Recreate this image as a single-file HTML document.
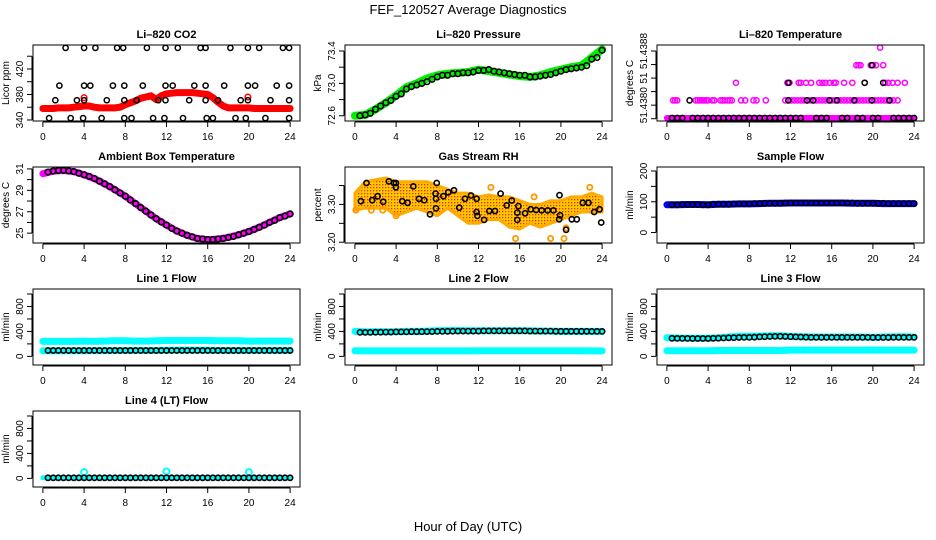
<!DOCTYPE html>
<html><head><meta charset="utf-8"><title>FEF_120527 Average Diagnostics</title>
<style>
html,body{margin:0;padding:0;background:#fff;}
svg{display:block;font-family:"Liberation Sans",Arial,sans-serif;}
</style></head>
<body>
<svg id="chart" width="936" height="540" viewBox="0 0 936 540" xmlns="http://www.w3.org/2000/svg">
<defs>
<pattern id="rhpat" width="3" height="3" patternUnits="userSpaceOnUse">
<rect width="3" height="3" fill="#ffcc00"/><rect x="1" y="1" width="1.3" height="1.3" fill="#ff2000"/>
</pattern>
</defs>
<rect width="936" height="540" fill="#fff"/>
<text x="468" y="14" text-anchor="middle" font-size="13">FEF_120527  Average Diagnostics</text>
<text x="468" y="531" text-anchor="middle" font-size="13">Hour of Day (UTC)</text>
</svg>
<script>
// ---------- data ----------
const hours25 = [0,1,2,3,4,5,6,7,8,9,10,11,12,13,14,15,16,17,18,19,20,21,22,23,24];
const half48 = [0.5,1,1.5,2,2.5,3,3.5,4,4.5,5,5.5,6,6.5,7,7.5,8,8.5,9,9.5,10,10.5,11,11.5,12,12.5,13,13.5,14,14.5,15,15.5,16,16.5,17,17.5,18,18.5,19,19.5,20,20.5,21,21.5,22,22.5,23,23.5,24];
const halfHours49 = [0,0.5,1,1.5,2,2.5,3,3.5,4,4.5,5,5.5,6,6.5,7,7.5,8,8.5,9,9.5,10,10.5,11,11.5,12,12.5,13,13.5,14,14.5,15,15.5,16,16.5,17,17.5,18,18.5,19,19.5,20,20.5,21,21.5,22,22.5,23,23.5,24];
const xTicks = [0,4,8,12,16,20,24];

// CO2
const co2Red = [358,358,358,359,359,359,360,361,362,362,360,359,359,359,359,360,364,367,370,374,376,378,372,378,381,382,383,383,383,383,382,381,380,375,368,362,359,359,359,359,359,358,358,358,358,358,358,358,358];
const co2BlackHours = [2.2,4.0,5.1,7.2,7.8,10.1,11.9,13.1,15.3,15.8,18.2,19.9,21.0,23.3,23.9, 1.6,4.0,4.6,6.8,7.9,9.7,11.9,12.6,14.7,15.8,17.6,19.9,20.6,22.7,23.9, 1.2,3.3,4.0,6.2,7.9,9.1,11.2,11.9,14.2,15.8,17.0,19.2,19.9,22.1,23.9, 0.6,2.7,3.9,5.7,7.9,8.6,10.7,11.8,13.6,15.9,16.5,18.7,19.7,21.6,23.9];
const co2BlackVals = [453,453,453,453,453,453,453,453,453,453,453,453,453,453,453, 394,394,394,394,394,394,394,394,394,394,394,394,394,394,394, 371,371,371,371,371,371,371,371,371,371,371,371,371,371,371, 343,343,343,343,343,343,343,343,343,343,343,343,343,343,343];
const co2RedOutHours = [4.0,19.9];
const co2RedOutVals = [375,376];

// Pressure
const presGreen = [72.6,72.61,72.68,72.76,72.85,72.95,73.0,73.06,73.1,73.12,73.13,73.14,73.17,73.15,73.13,73.11,73.09,73.08,73.1,73.14,73.17,73.2,73.22,73.32,73.42];
const presBlack = [72.6,72.61,72.63,72.68,72.72,72.76,72.79,72.84,72.87,72.93,72.96,72.98,73.0,73.02,73.05,73.08,73.1,73.1,73.12,73.12,73.13,73.13,73.14,73.16,73.16,73.17,73.15,73.14,73.13,73.12,73.11,73.1,73.1,73.08,73.08,73.09,73.1,73.11,73.13,73.15,73.17,73.18,73.19,73.2,73.22,73.3,73.32,73.41];

// Li-820 temperature
const tempBandHours = [0,24];
const tempBandVals = [51.43781,51.43781];
const tempMagHours = [0.6,0.8,1.0,2.8,3.0,3.2,3.4,3.6,3.8,4.0,4.4,4.6,5.2,5.4,5.6,5.9,6.1,6.3,7.2,7.6,8.4,8.7,9.6,11.5,11.8,12.1,12.4,12.7,13.0,13.3,13.6,13.9,14.2,14.5,14.8,15.1,15.4,15.7,16.0,16.3,16.6,16.9,17.2,17.5,17.8,18.1,18.4,18.7,19.0,19.3,19.6,19.9,20.2,20.5,20.8,21.1,21.4,21.7,22.0,22.4,
 6.7,11.7,11.9,12.8,13.0,13.5,14.0,14.8,15.1,15.4,15.8,16.2,16.4,17.2,18.0,19.2,21.2,21.5,21.9,22.4,23.1,
 18.4,18.6,18.8,19.8,20.0,20.3,21.0,
 20.7];
const tempMagVals = [51.43807,51.43807,51.43807,51.43807,51.43807,51.43807,51.43807,51.43807,51.43807,51.43807,51.43807,51.43807,51.43807,51.43807,51.43807,51.43807,51.43807,51.43807,51.43807,51.43807,51.43807,51.43807,51.43807,51.43807,51.43807,51.43807,51.43807,51.43807,51.43807,51.43807,51.43807,51.43807,51.43807,51.43807,51.43807,51.43807,51.43807,51.43807,51.43807,51.43807,51.43807,51.43807,51.43807,51.43807,51.43807,51.43807,51.43807,51.43807,51.43807,51.43807,51.43807,51.43807,51.43807,51.43807,51.43807,51.43807,51.43807,51.43807,51.43807,51.43807,
 51.43833,51.43833,51.43833,51.43833,51.43833,51.43833,51.43833,51.43833,51.43833,51.43833,51.43833,51.43833,51.43833,51.43833,51.43833,51.43833,51.43833,51.43833,51.43833,51.43833,51.43833,
 51.43859,51.43859,51.43859,51.43859,51.43859,51.43859,51.43859,
 51.43885];
const tempBlackHours = [0.5,1.0,1.5,2.5,3.0,3.5,4.0,4.5,5.0,5.5,6.0,6.5,7.0,7.5,8.0,8.5,9.0,9.5,10.0,10.5,11.0,11.5,12.0,12.5,13.0,14.5,15.0,15.5,17.0,17.5,18.5,19.0,20.0,20.5,22.0,22.5,23.0,23.5,24.0,
 2.2,11.8,13.6,14.2,15.8,16.5,18.2,19.9,21.6,
 11.8,19.2,21.0,
 19.9];
const tempBlackVals = [51.43781,51.43781,51.43781,51.43781,51.43781,51.43781,51.43781,51.43781,51.43781,51.43781,51.43781,51.43781,51.43781,51.43781,51.43781,51.43781,51.43781,51.43781,51.43781,51.43781,51.43781,51.43781,51.43781,51.43781,51.43781,51.43781,51.43781,51.43781,51.43781,51.43781,51.43781,51.43781,51.43781,51.43781,51.43781,51.43781,51.43781,51.43781,51.43781,
 51.43807,51.43807,51.43807,51.43807,51.43807,51.43807,51.43807,51.43807,51.43807,
 51.43833,51.43833,51.43833,
 51.43859];
const tempTicks = [51.4378,51.4380,51.4382,51.4384,51.4386,51.4388];
const tempTickLabels = ["","51.4380","","51","","51.4388"];

// Ambient box temperature
const ambBand = [30.55,30.8,30.85,30.75,30.45,30.1,29.6,29.05,28.45,27.75,27.05,26.35,25.75,25.2,24.8,24.5,24.4,24.45,24.6,24.85,25.15,25.55,26.0,26.45,26.8];
const ambBlack = [30.7,30.8,30.85,30.87,30.82,30.75,30.6,30.45,30.3,30.1,29.85,29.6,29.35,29.05,28.75,28.45,28.1,27.75,27.4,27.05,26.7,26.35,26.05,25.75,25.45,25.2,25.0,24.8,24.65,24.5,24.45,24.4,24.4,24.45,24.5,24.6,24.7,24.85,25.0,25.15,25.35,25.55,25.75,26.0,26.2,26.45,26.6,26.8];

// Gas stream RH
const rhLow = [3.285,3.29,3.29,3.29,3.27,3.28,3.29,3.28,3.27,3.29,3.27,3.25,3.25,3.26,3.26,3.24,3.235,3.25,3.24,3.25,3.26,3.27,3.28,3.28,3.28];
const rhHigh = [3.33,3.36,3.365,3.37,3.36,3.36,3.36,3.36,3.35,3.34,3.33,3.33,3.32,3.325,3.32,3.32,3.31,3.30,3.30,3.31,3.31,3.32,3.32,3.33,3.32];
const rhOutHours = [15.6,19.0,20.3,20.5,4.0,1.6,0.1,2.7,13.2,17.4,22.8];
const rhOutVals = [3.21,3.21,3.21,3.238,3.27,3.285,3.285,3.285,3.345,3.32,3.345];
const rhBlackHours = [0.58,1.13,1.68,2.20,2.75,3.30,3.79,3.98,3.98,4.60,5.12,5.67,6.22,6.74,7.29,7.94,7.84,7.87,7.87,8.59,9.07,9.62,10.14,10.69,11.27,11.82,11.82,11.89,12.54,13.05,13.6,14.15,14.74,15.23,15.77,15.77,15.87,16.52,17.07,17.59,18.14,18.72,19.27,19.83,19.86,19.92,20.5,21.06,21.54,22.13,22.68,23.23,23.75,23.91];
const rhBlackVals = [3.3086,3.3566,3.3113,3.3217,3.307,3.3609,3.3566,3.3452,3.3566,3.3086,3.3043,3.3478,3.3148,3.3113,3.2739,3.3566,3.3287,3.3148,3.2896,3.3217,3.3322,3.3374,3.2913,3.3148,3.3235,3.3148,3.2800,3.2696,3.2591,3.2826,3.2826,3.3287,3.2974,3.3104,3.2783,3.2591,3.2957,3.2765,3.2870,3.2852,3.2843,3.2843,3.2843,3.2608,3.3243,3.2713,3.2330,3.2608,3.2608,3.3043,3.3043,3.2800,3.2870,3.2522];

// Sample flow
const sampleBlue = [90,90,91,91,90,92,92,93,93,94,95,95,96,96,96,96,96,96,95,95,95,94,94,94,94];
const sampleBlack = [90,90,91,91,91,91,90,90,92,92,92,92,93,93,93,93,94,94,95,95,95,95,96,96,96,96,96,96,96,96,96,96,96,96,96,96,95,95,95,95,95,95,94,94,94,94,94,94];

// Line flows
const line1CyanHigh = [240,240,240,240,245,240,245,250,250,245,245,250,255,255,255,255,255,250,250,250,245,245,245,245,245];
const line1CyanLow = [90,90,90,90,90,92,92,92,95,95,95,95,98,100,100,100,98,95,95,95,95,95,95,95,95];
const line1Black = [95,95,95,95,95,95,95,95,95,95,95,95,95,95,95,95,95,95,95,95,95,95,95,95,95,95,95,95,95,95,95,95,95,95,95,95,95,95,95,95,95,95,95,95,95,95,95,95];
const line2CyanHigh = [400,395,395,395,395,400,400,405,410,415,415,410,410,410,410,410,410,410,405,405,400,400,400,400,400];
const line2CyanLow = [90,88,88,88,88,88,88,88,88,88,88,88,90,90,90,90,90,90,90,90,90,90,90,88,88];
const line2Black = [385,385,385,388,388,390,390,392,392,393,395,395,396,398,398,400,400,402,403,405,405,406,406,406,408,408,408,408,408,408,408,408,408,405,405,405,405,405,402,402,402,402,402,402,402,400,400,400];
const line3CyanHigh = [300,295,290,290,290,300,310,320,320,325,330,330,320,315,310,310,310,310,310,310,305,310,315,315,310];
const line3CyanLow = [90,90,90,90,90,95,95,95,95,95,95,95,100,100,100,100,100,100,100,100,100,100,100,100,100];
const line3Black = [290,288,288,288,286,286,286,286,290,292,295,298,300,302,305,305,308,312,315,318,320,322,318,315,312,310,308,305,305,305,305,305,305,305,305,305,305,305,305,302,302,302,302,305,305,305,305,305];
const line4CyanHours = [0,24];
const line4CyanVals = [10,10];
const line4SpikeHours = [4,12,20];
const line4SpikeVals = [100,110,100];
const line4Black = [10,10,10,10,10,10,10,10,10,10,10,10,10,10,10,10,10,10,10,10,10,10,10,10,10,10,10,10,10,10,10,10,10,10,10,10,10,10,10,10,10,10,10,10,10,10,10,10];
const flowTicks = [0,200,400,600,800,1000];
const flowTickLabels = ["0","","400","","800",""];

// ---------- drawing ----------
const svg = document.getElementById('chart');
const NS = 'http://www.w3.org/2000/svg';
function mk(tag, attrs, parent){
  const e = document.createElementNS(NS, tag);
  for (const k in attrs) e.setAttribute(k, attrs[k]);
  (parent||svg).appendChild(e);
  return e;
}
const rowTops = [45,167,289,411];

function panel(col,row,key,title,ylab,ymin,ymax,ticks,labels){
  const g = mk('g',{});
  
  
  const x0 = 33 + 312*col, x1 = x0 + 267, y0 = rowTops[row], y1 = y0 + 76;
  const xs = h => x0 + (h + 0.96)/25.92*267;
  const ys = v => y1 - (v - ymin)/(ymax - ymin)*76;
  const t = mk('text',{x:(x0+x1)/2,y:y0-7,'text-anchor':'middle','font-size':'11','font-weight':'bold'},g);
  t.textContent = title;
  
  
  const yl = mk('text',{x:0,y:0,'text-anchor':'middle','font-size':'10',transform:`translate(${x0-24},${(y0+y1)/2}) rotate(-90)`},g);
  yl.textContent = ylab;
  
  
  const xa = mk('g',{stroke:'#000','stroke-width':'1'},g);
  
  
  mk('line',{x1:xs(xTicks[0]),x2:xs(xTicks[xTicks.length-1]),y1:y1+1,y2:y1+1},xa);
  xTicks.forEach(h=>{
    mk('line',{x1:xs(h),x2:xs(h),y1:y1+1,y2:y1+6},xa);
    const tl = mk('text',{x:xs(h),y:y1+19,'text-anchor':'middle','font-size':'10',stroke:'none',fill:'#000'},g);
    tl.textContent = String(h);
    
    
  });
  const ya = mk('g',{stroke:'#000','stroke-width':'1'},g);
  
  
  mk('line',{x1:x0-1,x2:x0-1,y1:ys(ticks[0]),y2:ys(ticks[ticks.length-1])},ya);
  ticks.forEach((v,i)=>{
    mk('line',{x1:x0-6,x2:x0-1,y1:ys(v),y2:ys(v)},ya);
    if (labels[i]) {
      const tl = mk('text',{x:0,y:0,'text-anchor':'middle','font-size':'10',stroke:'none',fill:'#000',transform:`translate(${x0-10},${ys(v)}) rotate(-90)`},g);
      tl.textContent = labels[i];
      
      
    }
  });
  const clip = mk('clipPath',{id:'clip-'+key},g);
  mk('rect',{x:x0,y:y0,width:267,height:76},clip);
  const plot = mk('g',{'clip-path':`url(#clip-${key})`},g);
  
  
  const box = mk('rect',{x:x0,y:y0,width:267,height:76,fill:'none',stroke:'#000','stroke-width':'1'},g);
  
  
  return {xs,ys,plot};
}
function band(P,name,hs,vs,color,w){
  const pts = hs.map((h,i)=>P.xs(h).toFixed(1)+','+P.ys(vs[i]).toFixed(1)).join(' ');
  const l = mk('polyline',{points:pts,fill:'none',stroke:color,'stroke-width':w,'stroke-linejoin':'round','stroke-linecap':'round'},P.plot);
  
  
}
function pts(P,name,hs,vs,color,r,sw){
  const g = mk('g',{fill:'none',stroke:color,'stroke-width':sw},P.plot);
  
  
  hs.forEach((h,i)=>{
    const c = mk('circle',{cx:P.xs(h).toFixed(1),cy:P.ys(vs[i]).toFixed(1),r:r},g);
    
    
  });
}

let P = panel(0,0,'co2','Li\u2013820 CO2','Licor ppm',338.4,457.6,[340,360,380,400,420,440],["340","","380","","420",""]);
band(P,'co2-red-series',halfHours49,co2Red,'#ff0000',7);
pts(P,'co2-red-outliers',co2RedOutHours,co2RedOutVals,'#ff0000',2.8,1.5);
pts(P,'co2-black-series',co2BlackHours,co2BlackVals,'#000',2.6,1.5);

P = panel(1,0,'pressure','Li\u2013820 Pressure','kPa',72.535,73.474,[72.6,72.8,73.0,73.2,73.4],["72.6","","73.0","","73.4"]);
band(P,'pressure-green-series',hours25,presGreen,'#00ee00',8);
pts(P,'pressure-black-series',half48,presBlack,'#000',2.8,1.6);

P = panel(2,0,'temperature','Li\u2013820 Temperature','degrees C',51.437766,51.438889,tempTicks,tempTickLabels);
band(P,'temperature-magenta-band',tempBandHours,tempBandVals,'#ff00ff',6);
pts(P,'temperature-magenta-series',tempMagHours,tempMagVals,'#ff00ff',2.6,1.5);
pts(P,'temperature-black-series',tempBlackHours,tempBlackVals,'#000',2.6,1.5);

P = panel(0,1,'ambient','Ambient Box Temperature','degrees C',24.08,31.18,[25,26,27,28,29,30,31],["25","","27","","29","","31"]);
band(P,'ambient-magenta-series',hours25,ambBand,'#ff00ff',7);
pts(P,'ambient-black-series',half48,ambBlack,'#000',2.8,1.7);

P = panel(1,1,'rh','Gas Stream RH','percent',3.198,3.399,[3.20,3.25,3.30,3.35],["3.20","","3.30",""]);
(function(){
  const top = hours25.map((h,i)=>P.xs(h).toFixed(1)+','+P.ys(rhHigh[i]).toFixed(1));
  const bot = hours25.slice().reverse().map((h,j)=>P.xs(h).toFixed(1)+','+P.ys(rhLow[hours25.length-1-j]).toFixed(1));
  const poly = mk('polygon',{points:top.concat(bot).join(' '),fill:'url(#rhpat)',stroke:'#ffaa00','stroke-width':'3','stroke-linejoin':'round'},P.plot);
  
  
})();
pts(P,'rh-orange-outliers',rhOutHours,rhOutVals,'#ff9900',2.6,1.8);
pts(P,'rh-black-series',rhBlackHours,rhBlackVals,'#000',2.6,1.6);

P = panel(2,1,'sample-flow','Sample Flow','ml/min',-34,213,[0,50,100,150,200],["0","","100","","200"]);
band(P,'sample-flow-blue-series',hours25,sampleBlue,'#0000ff',7);
pts(P,'sample-flow-black-series',half48,sampleBlack,'#000',2.6,1.6);

P = panel(0,2,'line1','Line 1 Flow','ml/min',-138,1080,flowTicks,flowTickLabels);
band(P,'line1-cyan-high',hours25,line1CyanHigh,'#00ffff',7);
band(P,'line1-cyan-low',hours25,line1CyanLow,'#00ffff',7);
pts(P,'line1-black-series',half48,line1Black,'#000',2.6,1.6);

P = panel(1,2,'line2','Line 2 Flow','ml/min',-138,1080,flowTicks,flowTickLabels);
band(P,'line2-cyan-high',hours25,line2CyanHigh,'#00ffff',7);
band(P,'line2-cyan-low',hours25,line2CyanLow,'#00ffff',7);
pts(P,'line2-black-series',half48,line2Black,'#000',2.6,1.6);

P = panel(2,2,'line3','Line 3 Flow','ml/min',-138,1080,flowTicks,flowTickLabels);
band(P,'line3-cyan-high',hours25,line3CyanHigh,'#00ffff',7);
band(P,'line3-cyan-low',hours25,line3CyanLow,'#00ffff',7);
pts(P,'line3-black-series',half48,line3Black,'#000',2.6,1.6);

P = panel(0,3,'line4','Line 4 (LT) Flow','ml/min',-138,1080,flowTicks,flowTickLabels);
band(P,'line4-cyan-series',line4CyanHours,line4CyanVals,'#00ffff',5);
pts(P,'line4-cyan-spikes',line4SpikeHours,line4SpikeVals,'#00ffff',3,2);
pts(P,'line4-black-series',half48,line4Black,'#000',2.6,1.6);
</script>
</body></html>
